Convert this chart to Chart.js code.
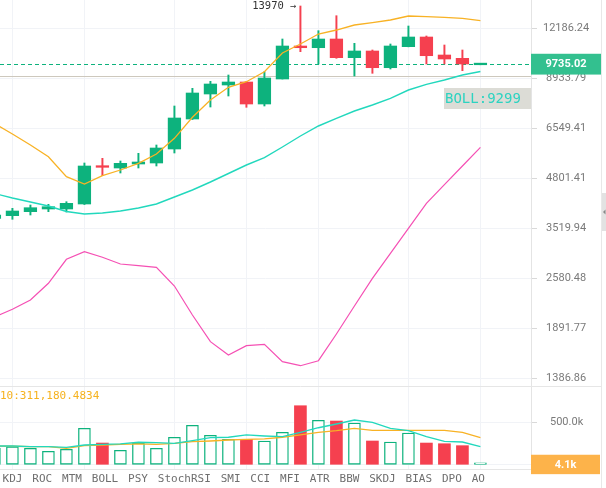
<!DOCTYPE html>
<html><head><meta charset="utf-8">
<script src="https://cdn.jsdelivr.net/npm/chart.js@4.4.1/dist/chart.umd.min.js"></script>
<style>
html,body{margin:0;padding:0;background:#fff;overflow:hidden}
#wrap{position:relative;width:606px;height:488px}
#pc{position:absolute;left:0;top:0}
#vc{position:absolute;left:0;top:386px}
</style></head><body>
<div id="wrap">
<canvas id="pc" width="606" height="386"></canvas>
<canvas id="vc" width="606" height="102"></canvas>
</div>
<script>
// ---------------- data ----------------
const opens  = [3733.8,3799.3,3894.9,3960.7,3960.7,4085.6,5172.8,5109.0,5237.5,5270.1,5748.7,6925.8,8088.9,8553.8,8714.6,7601.9,8878.5,10897.6,10783.1,11381.7,10134.0,10564.5,9523.8,10850.4,11523.9,10305.2,10096.3,9700.0];
const highs  = [3887.6,3977.9,4060.3,4078.0,4144.4,5270.1,5426.2,5335.9,5597.3,5893.3,7508.1,8380.3,8752.6,9101.8,8741.7,9290.2,11381.7,13970,11983.6,13153.3,11081.8,10630.3,11033.7,12338.5,11595.7,10965.4,10630.3,9760];
const lows   = [3676.3,3715.3,3815.9,3894.9,3887.6,4072.9,4870.5,4952.8,5109.0,5172.8,5607.7,6904.4,7461.5,7989.1,7447.7,7508.1,8878.5,10518.7,9745.2,10096.3,9045.4,9198.3,9447.2,10840,9745.2,9745.2,9348.1,9700];
const closes = [3815.9,3911.8,3992.8,4017.7,4103.4,5172.8,5131.2,5260.3,5303.0,5784.4,6969.0,8139.2,8607.1,8714.6,7601.9,8933.79,10897.6,10783.1,11381.7,10134.0,10564.5,9523.8,10897.6,11523.9,10260.5,10052.5,9745.2,9735.02];
const lineOrange = [6739.2,6309.9,5893.3,5480.3,4840.4,4625.8,4870.5,5045.9,5260.3,5573.0,6143.7,6999.3,7793.2,8432.5,8730.9,9290.2,10434.1,11033.7,11740.6,12035.8,12415.4,12593.9,12806.9,13128.8,13072.0,13023.3,12942.8,12751.3];
const lineTeal   = [4360.8,4240.6,4136.6,4035.2,3899.7,3839.6,3863.6,3911.8,3985.5,4085.6,4267.1,4456.7,4683.6,4937.5,5205.1,5446.4,5820.6,6232.0,6631.3,6956.0,7278.5,7554.8,7875.8,8292.4,8591.1,8823.5,9101.8,9299];
const linePink   = [2025.5,2124.7,2251.0,2496.9,2898.2,3038.3,2934.4,2814.8,2785.3,2757.7,2455.4,2050.8,1737.5,1599.8,1694.9,1709.7,1534.6,1496.9,1544.1,1822.6,2168.7,2575.7,3008.2,3513.4,4103.4,4605.7,5172.8,5809.8];
const volumes    = [198000,213000,194000,159000,182000,429000,256000,171000,256000,194000,324000,465000,347000,300000,300000,280000,382000,695000,524000,515000,492000,280000,268000,374000,256000,248000,225000,4100];
const volMaTeal  = [221000,221000,213000,213000,206000,233000,241000,245000,265000,260000,253000,284000,319000,324000,351000,339000,331000,382000,436000,480000,527000,500000,429000,401000,331000,276000,268000,213000];
const volMaOrange= [221000,218000,213000,213000,194000,225000,233000,241000,245000,241000,253000,272000,280000,292000,300000,304000,324000,351000,382000,401000,429000,406000,406000,406000,406000,406000,382000,319000];
const priceTicks  = [1386.86,1891.77,2580.48,3519.94,4801.41,6549.41,8933.79,12186.24];
const volumeTicks = [0,500000];
const timeGrid    = [1,5,10,14,18,23,27];
const tabLabels   = ['KDJ','ROC','MTM','BOLL','PSY','StochRSI','SMI','CCI','MFI','ATR','BBW','SKDJ','BIAS','DPO','AO'];
const lastPrice = 9735.02;
const refPrice  = 9028;
const highMark  = 13970;
const bollLabel = 'BOLL:9299';
const maVolText = '10:311,180.4834';
const lastVolText = '4.1k';

// ---------------- style ----------------
const GREEN='#0db27d', RED='#f5404f', ORANGE='#f8b225', TEAL='#22d8bd', PINK='#f550b4';
const GRID='#f1f3f7', AXIS='#e4e4e4', TICKTXT='#7a7a7a';
const PMIN=1319.66, PMAX=14500.4, XMIN=0.31, XMAX=29.81;
const VMIN=-49412, VMAX=927059;
const xs = closes.map((_,i)=>i);
const up = i => closes[i] >= opens[i];

Chart.defaults.font.family = 'Roboto';
Chart.defaults.animation = false;

const xScale = {
  type:'linear', min:XMIN, max:XMAX, bounds:'data', display:true, offset:false,
  afterBuildTicks: s => { s.ticks = timeGrid.map(v=>({value:v})); },
  ticks:{display:false}, grid:{color:GRID, drawTicks:false, offset:false}, border:{display:false}
};

const pricePlugin = {
  id:'priceExtras',
  beforeDatasetsDraw(chart){
    const {ctx, chartArea:a, scales:{y}} = chart;
    ctx.save();
    const yr = Math.round(y.getPixelForValue(refPrice))+0.5;
    ctx.strokeStyle='#cdc8bd'; ctx.lineWidth=1;
    ctx.beginPath(); ctx.moveTo(a.left,yr); ctx.lineTo(a.right,yr); ctx.stroke();
    const yl = Math.round(y.getPixelForValue(lastPrice))+0.5;
    ctx.setLineDash([4,3]); ctx.strokeStyle=GREEN;
    ctx.beginPath(); ctx.moveTo(a.left,yl); ctx.lineTo(a.right,yl); ctx.stroke();
    ctx.restore();
  },
  afterDraw(chart){
    const {ctx, chartArea:a, scales:{x,y}} = chart;
    ctx.save();
    // BOLL label
    ctx.fillStyle='#dcdcd6';
    ctx.fillRect(a.right-87, 88, 87, 21);
    ctx.fillStyle='#2cd3c1';
    ctx.font='14px "DejaVu Sans Mono"';
    ctx.textBaseline='middle'; ctx.textAlign='left';
    ctx.fillText(bollLabel, a.right-86, 99);
    // high annotation
    const hi = highs.indexOf(Math.max(...highs));
    ctx.fillStyle='#333';
    ctx.font='10.5px "DejaVu Sans Mono"';
    ctx.textAlign='right';
    ctx.fillText(highMark+' \u2192', x.getPixelForValue(hi)-4, y.getPixelForValue(highMark)+0.5);
    // last price box
    const yl = y.getPixelForValue(lastPrice);
    ctx.fillStyle='#33c08f';
    ctx.fillRect(a.right, yl-10.4, 70, 20.8);
    ctx.fillStyle='#fff';
    ctx.font='bold 11px Roboto';
    ctx.textAlign='center';
    ctx.fillText(lastPrice.toFixed(2), a.right+35, yl+0.5);
    // right strip
    ctx.strokeStyle='#e8e8e8'; ctx.lineWidth=1;
    ctx.beginPath(); ctx.moveTo(601.5,0); ctx.lineTo(601.5,chart.height); ctx.stroke();
    ctx.fillStyle='#e2e2e2'; ctx.fillRect(602,193,4,38);
    ctx.fillStyle='#888';
    ctx.beginPath(); ctx.moveTo(603,212); ctx.lineTo(605.5,209.5); ctx.lineTo(605.5,214.5); ctx.closePath(); ctx.fill();
    ctx.restore();
  }
};

new Chart(document.getElementById('pc'), {
  type:'bar',
  data:{datasets:[
    {type:'line', data:xs.map(i=>({x:i,y:lineOrange[i]})), borderColor:ORANGE, borderWidth:1.3, pointRadius:0, tension:0, order:0},
    {type:'line', data:xs.map(i=>({x:i,y:lineTeal[i]})), borderColor:TEAL, borderWidth:1.4, pointRadius:0, tension:0, order:0},
    {type:'line', data:xs.map(i=>({x:i,y:linePink[i]})), borderColor:PINK, borderWidth:1.2, pointRadius:0, tension:0, order:0},
    {data:xs.map(i=>({x:i,y:[lows[i],highs[i]]})), backgroundColor:xs.map(i=>up(i)?GREEN:RED), barThickness:1.3, grouped:false, order:2},
    {data:xs.map(i=>({x:i,y:[opens[i],closes[i]]})), backgroundColor:xs.map(i=>up(i)?GREEN:RED), barThickness:12.6, minBarLength:1.6, grouped:false, order:1}
  ]},
  options:{
    responsive:false, devicePixelRatio:1, animation:false, events:[],
    layout:{padding:0},
    plugins:{legend:{display:false}, tooltip:{enabled:false}},
    scales:{
      x: xScale,
      y:{type:'logarithmic', position:'right', min:PMIN, max:PMAX, bounds:'data',
         afterBuildTicks: s => { s.ticks = priceTicks.map(v=>({value:v})); },
         afterFit: s => { s.width=75; s.paddingTop=0; s.paddingBottom=0; },
         ticks:{callback:v=>Number(v).toFixed(2), color:TICKTXT, font:{family:'Roboto',size:11}, padding:6, crossAlign:'center', autoSkip:false},
         grid:{color:GRID, tickColor:'#d9d9d9', tickLength:6},
         border:{display:true, color:AXIS}}
    }
  },
  plugins:[pricePlugin]
});

const volPlugin = {
  id:'volExtras',
  afterDraw(chart){
    const {ctx, chartArea:a, scales:{y}} = chart;
    ctx.save();
    ctx.strokeStyle='#e6e6e6'; ctx.lineWidth=1;
    ctx.beginPath(); ctx.moveTo(0,0.5); ctx.lineTo(601,0.5); ctx.stroke();
    ctx.beginPath(); ctx.moveTo(0,a.bottom+0.5); ctx.lineTo(a.right,a.bottom+0.5); ctx.stroke();
    ctx.strokeStyle='#e8e8e8';
    ctx.beginPath(); ctx.moveTo(601.5,0); ctx.lineTo(601.5,chart.height); ctx.stroke();
    // MA text
    ctx.fillStyle='#f6b21e';
    ctx.font='11px "DejaVu Sans Mono"';
    ctx.textBaseline='middle'; ctx.textAlign='left';
    ctx.fillText(maVolText, 0, 10);
    // last volume box
    const yv = y.getPixelForValue(volumes[volumes.length-1]);
    ctx.fillStyle='#fdb34a';
    ctx.fillRect(a.right, yv-9.7, 69, 19.4);
    ctx.fillStyle='#fff';
    ctx.font='bold 11px Roboto';
    ctx.textAlign='center';
    ctx.fillText(lastVolText, a.right+34.5, yv+0.5);
    // indicator tabs
    ctx.fillStyle='#6e6e6e';
    ctx.font='11px "DejaVu Sans Mono"';
    ctx.textAlign='left';
    let tx = 2.6;
    for (const t of tabLabels) {
      ctx.fillText(t, tx, 93.5);
      tx += ctx.measureText(t).width + 9.85;
    }
    ctx.restore();
  }
};

new Chart(document.getElementById('vc'), {
  type:'bar',
  data:{datasets:[
    {type:'line', data:xs.map(i=>({x:i,y:volMaTeal[i]})), borderColor:TEAL, borderWidth:1.3, pointRadius:0, tension:0, order:0},
    {type:'line', data:xs.map(i=>({x:i,y:volMaOrange[i]})), borderColor:ORANGE, borderWidth:1.3, pointRadius:0, tension:0, order:0},
    {data:xs.map(i=>({x:i,y:volumes[i]})),
     backgroundColor:xs.map(i=>up(i)?'#ffffff':RED),
     borderColor:xs.map(i=>up(i)?GREEN:RED),
     borderWidth:xs.map(i=>up(i)?1.3:0),
     borderSkipped:false, barThickness:12, minBarLength:2, grouped:false, order:1}
  ]},
  options:{
    responsive:false, devicePixelRatio:1, animation:false, events:[],
    layout:{padding:{left:0,right:0,top:0,bottom:19}},
    plugins:{legend:{display:false}, tooltip:{enabled:false}},
    scales:{
      x: xScale,
      y:{type:'linear', position:'right', min:VMIN, max:VMAX, bounds:'data',
         afterBuildTicks: s => { s.ticks = volumeTicks.map(v=>({value:v})); },
         afterFit: s => { s.width=75; s.paddingTop=0; s.paddingBottom=0; },
         ticks:{callback:v=> v===0 ? '' : (v/1000).toFixed(1)+'k', color:TICKTXT, font:{family:'Roboto',size:11}, padding:13, crossAlign:'center', autoSkip:false},
         grid:{color:GRID, tickColor:'#d9d9d9', tickLength:6},
         border:{display:true, color:AXIS}}
    }
  },
  plugins:[volPlugin]
});
</script>
</body></html>
